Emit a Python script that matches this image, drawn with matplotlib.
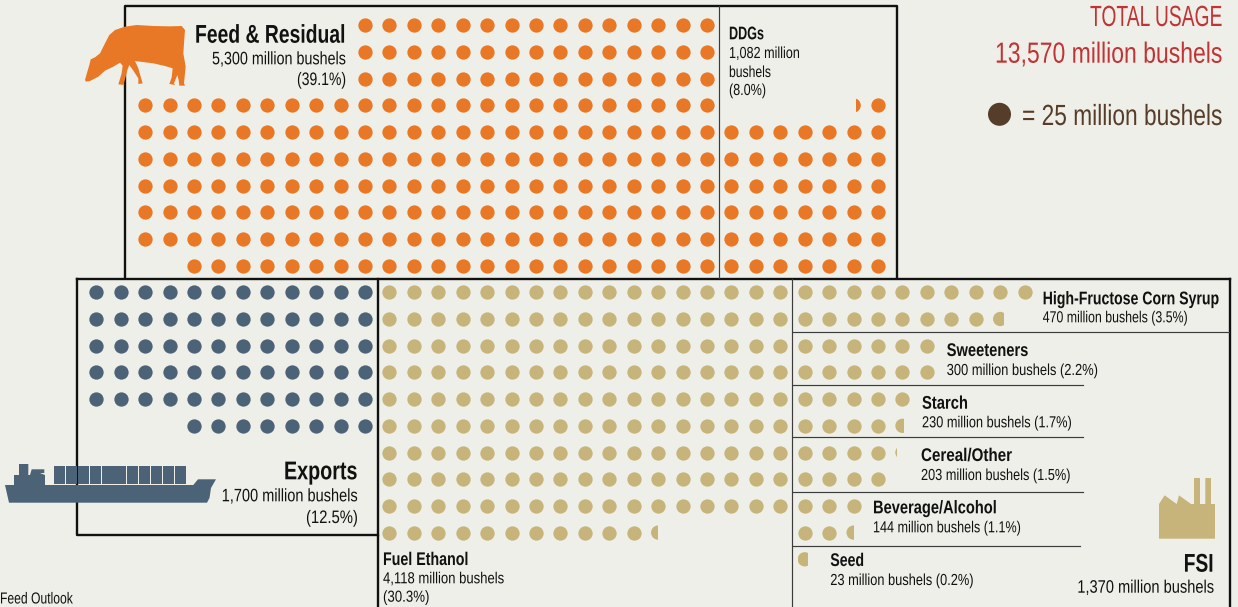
import matplotlib
matplotlib.use("Agg")
import matplotlib.pyplot as plt
from matplotlib.patches import Polygon, Rectangle, Circle
from matplotlib.patheffects import AbstractPathEffect
from matplotlib.text import Text
from matplotlib.transforms import Affine2D, Bbox
import numpy as np

BG = "#EEEFE8"; ORANGE = "#E97826"; NAVY = "#4C6276"; TAN = "#C7B47A"
RED = "#C13335"; BROWN = "#563D2A"; INK = "#111111"; THIN = "#3C3C3C"
FONT = ["Liberation Sans", "DejaVu Sans"]

# each block: first grid row, first column of each row, dots in each row
feed_row0 = 0
feed_cols = [11, 11, 11, 2, 2, 2, 2, 2, 2, 4]
feed_counts = [15, 15, 15, 24, 24, 24, 24, 24, 24, 22]
ddg_row0 = 3
ddg_cols = [32, 26, 26, 26, 26, 26, 26]
ddg_counts = [1, 7, 7, 7, 7, 7, 7]
export_row0 = 10
export_cols = [0, 0, 0, 0, 0, 4]
export_counts = [12, 12, 12, 12, 12, 8]
ethanol_row0 = 10
ethanol_cols = [12] * 10
ethanol_counts = [17, 17, 17, 17, 17, 17, 17, 17, 17, 11]
hfcs_row0 = 10
hfcs_cols = [29, 29]
hfcs_counts = [10, 8]
sweet_row0 = 12
sweet_cols = [29, 29]
sweet_counts = [6, 6]
starch_row0 = 14
starch_cols = [29, 29]
starch_counts = [5, 4]
cereal_row0 = 16
cereal_cols = [29, 29]
cereal_counts = [4, 4]
bev_row0 = 18
bev_cols = [29, 29]
bev_counts = [3, 2]

# partial dots: row, column, visible width share, kept side
partial_orange = [(3, 31, 0.30, "right")]
partial_tan = [(19, 23, 0.52, "left"), (11, 37, 0.76, "left"), (15, 33, 0.60, "left"),
               (16, 33, 0.10, "left"), (19, 31, 0.52, "left"), (20, 29, 0.74, "left")]

X0, DX = 96.3, 24.43
Y0, DY = 25.3, 26.7
D = 14.3


def gx(c):
    return X0 + DX * np.asarray(c)


def gy(r):
    return Y0 + DY * np.asarray(r)


fig = plt.figure(figsize=(12.38, 6.07), dpi=100, facecolor=BG)
ax = fig.add_axes([0, 0, 1, 1])
ax.set_xlim(0, 1238); ax.set_ylim(607, 0); ax.axis("off")


def ln(x, y, thick=True):
    ax.plot(x, y, color=INK if thick else THIN, lw=1.7 if thick else 0.85,
            solid_capstyle="projecting", zorder=2)


ln([125.3, 125.3, 897, 897], [278, 5.7, 5.7, 278])
ln([76.7, 1229.7], [278.7, 278.7])
ln([76.7, 76.7, 378, 378], [278.7, 534.7, 534.7, 610])
ln([378, 378], [278.7, 534.7])
ln([1229.7, 1229.7], [278.7, 610])
ln([718.8, 718.8], [6, 278], False)
ln([792.0, 792.0], [279, 606], False)
for y, xe in zip([332, 384.7, 437, 492, 546.3], [1229, 1082.7, 1082.7, 1082.7, 1079.7]):
    ln([793, xe], [y, y], False)


def block(row0, cols, counts, color):
    xs, ys = [], []
    for i, (c, n) in enumerate(zip(cols, counts)):
        for k in range(n):
            xs.append(gx(c + k)); ys.append(gy(row0 + i))
    ax.scatter(xs, ys, s=(D * 0.72) ** 2, c=color, linewidths=0, zorder=3)


def partial(items, color):
    for r, c, w, side in items:
        x, y = gx(c), gy(r)
        circ = Circle((x, y), D / 2, fc=color, ec="none", zorder=3)
        ax.add_patch(circ)
        left = x - D / 2 if side == "left" else x + D / 2 - D * w
        circ.set_clip_path(Rectangle((left, y - D), D * w, 2 * D, transform=ax.transData))


block(feed_row0, feed_cols, feed_counts, ORANGE)
block(ddg_row0, ddg_cols, ddg_counts, ORANGE)
block(export_row0, export_cols, export_counts, NAVY)
for r0, cc, nn in [(ethanol_row0, ethanol_cols, ethanol_counts), (hfcs_row0, hfcs_cols, hfcs_counts),
                   (sweet_row0, sweet_cols, sweet_counts), (starch_row0, starch_cols, starch_counts),
                   (cereal_row0, cereal_cols, cereal_counts), (bev_row0, bev_cols, bev_counts)]:
    block(r0, cc, nn, TAN)
partial(partial_orange, ORANGE)
partial(partial_tan, TAN)

ax.add_patch(Circle((999.5, 114.3), 11.5, fc=BROWN, ec="none", zorder=3))

cow = np.array([(45,240),(50,222),(58,195),(62,178),(75,172),(90,160),(105,130),(118,105),(135,90),(165,80),
                (200,75),(250,78),(300,79),(335,78),(345,90),(342,130),(340,160),(347,200),(342,250),(345,257),
                (328,257),(326,240),(322,225),(312,250),(315,255),(298,252),(305,232),(308,205),(285,198),(250,190),
                (210,185),(195,183),(205,205),(212,230),(218,250),(205,252),(205,235),(190,212),(178,195),(172,210),
                (162,250),(163,255),(145,253),(155,220),(158,197),(150,188),(130,200),(105,212),(85,230),(60,243),(48,245)],
               dtype=float)
cow = cow / 3 + [70, 0]
ax.add_patch(Polygon(cow, fc=ORANGE, ec="none", zorder=4))

hull = [(5,485),(193.3,485),(198,479.3),(216,479.3),(211,488),(209.5,498),(207,502.7),(9,502.7)]
ax.add_patch(Polygon(hull, fc=NAVY, ec="none", zorder=4))
sup = [(14,486),(14,475),(19,475),(19,464),(28.3,464),(28.3,475),(30,475),(31.7,469.3),(44.3,469.3),
       (44.3,473),(40,473),(45,475),(45,486)]
ax.add_patch(Polygon(sup, fc=NAVY, ec="none", zorder=4))
for i in range(11):
    ax.add_patch(Rectangle((54 + 12.09 * i, 466), 11.2, 18, fc=NAVY, ec="none", zorder=4))

fac = np.array([(1137,702),(1154,676),(1190,702),(1197,676),(1233,702),(1242,702),(1242,624),(1260,624),
                (1260,702),(1276,702),(1276,624),(1293,624),(1293,702),(1305,702),(1305,806),(1137,806)], dtype=float)
fac = fac / 3 + [780, 270]
ax.add_patch(Polygon(fac, fc=TAN, ec="none", zorder=4))


class Squeeze(AbstractPathEffect):
    """Narrow glyph outlines horizontally about the text's anchor."""
    def __init__(self, text):
        self.text = text

    def draw_path(self, renderer, gc, tpath, affine, rgbFace=None):
        tx = self.text
        a = tx.get_transform().transform(tx.get_position())[0]
        aff = affine + Affine2D().translate(-a, 0).scale(tx.sx, 1).translate(a, 0)
        renderer.draw_path(gc, tpath, aff, rgbFace)


class NarrowText(Text):
    sx = 1.0

    def get_window_extent(self, renderer=None, dpi=None):
        bb = super().get_window_extent(renderer, dpi)
        a = self.get_transform().transform(self.get_position())[0]
        return Bbox.from_extents(a + (bb.x0 - a) * self.sx, bb.y0, a + (bb.x1 - a) * self.sx, bb.y1)


renderer = fig.canvas.get_renderer()


def t(x, y, s, size, width, ha="left", bold=False, color=INK):
    tx = NarrowText(x, y, s, fontsize=size, ha=ha, va="baseline", color=color, family=FONT,
                    fontweight="bold" if bold else "normal", zorder=5)
    ax.add_artist(tx)
    tx.sx = width / tx.get_window_extent(renderer).width
    tx.set_path_effects([Squeeze(tx)])


H1, H2, S1, S2, BIG = 18.5, 13.2, 13, 11.5, 21
t(346, 42.7, "Feed & Residual", H1, 151, "right", True)
t(346, 64.3, "5,300 million bushels", S1, 134, "right")
t(346, 85, "(39.1%)", S1, 49, "right")
t(729, 39.3, "DDGs", H2, 35, bold=True)
t(729, 58, "1,082 million", S2, 71)
t(729, 77, "bushels", S2, 42)
t(729, 95, "(8.0%)", S2, 37.4)
t(1222, 26, "TOTAL USAGE", BIG, 132, "right", color=RED)
t(1222, 62.7, "13,570 million bushels", BIG, 227, "right", color=RED)
t(1222, 125, "= 25 million bushels", BIG, 200, "right", color=BROWN)
t(357.7, 479.3, "Exports", H1, 73.7, "right", True)
t(357.7, 501.3, "1,700 million bushels", S1, 136, "right")
t(357.7, 523, "(12.5%)", S1, 51.7, "right")
t(383, 565, "Fuel Ethanol", H2, 85.3, bold=True)
t(383, 583.3, "4,118 million bushels", S2, 121.7)
t(383, 601.7, "(30.3%)", S2, 46.7)
t(1219.4, 304.3, "High-Fructose Corn Syrup", H2, 176.7, "right", True)
t(1042.7, 322.3, "470 million bushels (3.5%)", S2, 145.7)
t(946.7, 356, "Sweeteners", H2, 82, bold=True)
t(946.7, 375, "300 million bushels (2.2%)", S2, 151.7)
t(922, 408.7, "Starch", H2, 46, bold=True)
t(922, 427.3, "230 million bushels (1.7%)", S2, 150.3)
t(921, 461, "Cereal/Other", H2, 91, bold=True)
t(921, 480, "203 million bushels (1.5%)", S2, 150)
t(873, 513.3, "Beverage/Alcohol", H2, 124, bold=True)
t(873, 532.3, "144 million bushels (1.1%)", S2, 148.7)
t(830.3, 566, "Seed", H2, 34, bold=True)
t(830.3, 585, "23 million bushels (0.2%)", S2, 143.7)
t(1213.7, 571.7, "FSI", H1, 30, "right", True)
t(1214, 592.7, "1,370 million bushels", S1, 136.7, "right")
t(0, 603.5, "Feed Outlook", S2, 73)

fig.savefig("out.png", dpi=100, facecolor=BG)
